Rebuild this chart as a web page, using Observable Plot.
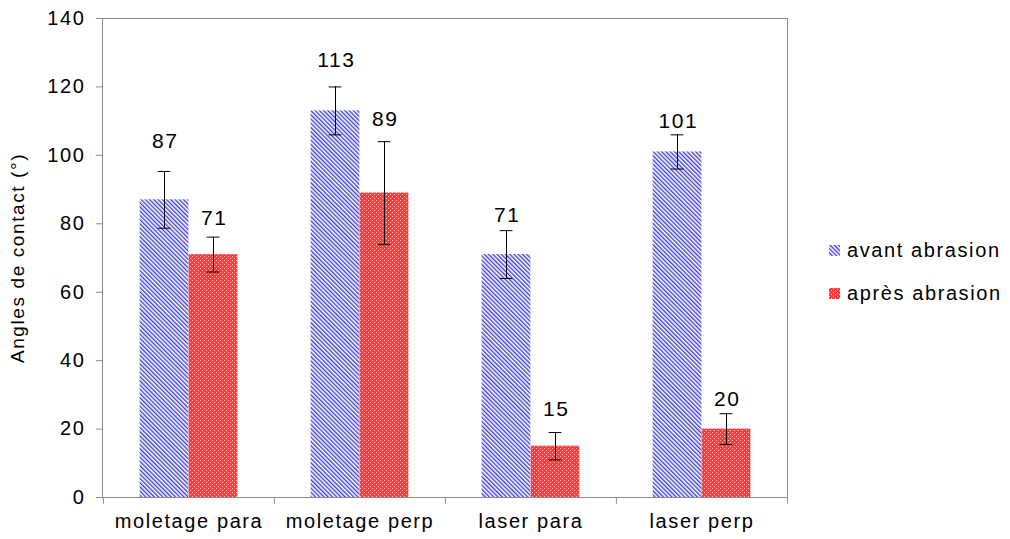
<!DOCTYPE html>
<html>
<head>
<meta charset="utf-8">
<script src="https://cdn.jsdelivr.net/npm/d3@7"></script>
<script src="https://cdn.jsdelivr.net/npm/@observablehq/plot@0.6"></script>
<style>
  body { margin: 0; background: #fff; font-family: "Liberation Sans", Arial, sans-serif; }
  #wrap { position: relative; width: 1010px; height: 539px; }
  #legend { position: absolute; left: 829px; top: 0; font-size: 20px; letter-spacing: 1.6px; color: #000; }
  .item { position: absolute; display: flex; align-items: center; white-space: nowrap; }
  .item svg { margin-right: 7px; }
</style>
</head>
<body>
<div id="wrap">
  <div id="chart"></div>
  <div id="legend"></div>
</div>
<script>
const categories = ["moletage para", "moletage perp", "laser para", "laser perp"];
const seriesNames = ["avant abrasion", "après abrasion"];
const avantValues = [87, 113, 71, 101];
const apresValues = [71, 89, 15, 20];
const avantErrors = [8.3, 7, 7, 5];
const apresErrors = [5.1, 15, 4, 4.5];
const avantLabelY = [104, 127.7, 82.4, 109.9];
const apresLabelY = [81.6, 110.5, 25.7, 28.6];
const yTicks = [0, 20, 40, 60, 80, 100, 120, 140];

const W = 1010, H = 539, mL = 102, mR = 223, mT = 18, mB = 42;
const bw = (W - mL - mR) / categories.length;
const barW = 49, off = 24.5, capW = 13;

const avant = categories.map((c, i) => ({cat: c, value: avantValues[i], err: avantErrors[i], labelY: avantLabelY[i]}));
const apres = categories.map((c, i) => ({cat: c, value: apresValues[i], err: apresErrors[i], labelY: apresLabelY[i]}));

const fills = {"avant abrasion": "url(#hatchBlue)", "après abrasion": "url(#checkRed)"};

function seriesMarks(data, sign, fill) {
  const c = bw / 2 + sign * off; // bar centre offset inside the band
  return [
    Plot.barY(data, {x: "cat", y: "value", fill, insetLeft: c - barW / 2, insetRight: bw - c - barW / 2}),
    Plot.ruleX(data, {x: "cat", y1: d => d.value - d.err, y2: d => d.value + d.err, dx: sign * off, stroke: "#000", strokeWidth: 1}),
    Plot.tickY(data, {x: "cat", y: d => d.value - d.err, insetLeft: c - capW / 2, insetRight: bw - c - capW / 2, stroke: "#000", strokeWidth: 1}),
    Plot.tickY(data, {x: "cat", y: d => d.value + d.err, insetLeft: c - capW / 2, insetRight: bw - c - capW / 2, stroke: "#000", strokeWidth: 1}),
    Plot.text(data, {x: "cat", y: "labelY", text: d => String(d.value), dx: sign * off + 0.8, fontSize: 21, fill: "#000"})
  ];
}

const plot = Plot.plot({
  width: W, height: H,
  marginLeft: mL, marginRight: mR, marginTop: mT, marginBottom: mB,
  style: {fontFamily: "'Liberation Sans', Arial, sans-serif", background: "transparent", color: "#000", letterSpacing: "1.6px"},
  x: {domain: categories, padding: 0},
  y: {domain: [0, 140]},
  marks: [
    ...seriesMarks(avant, -1, fills["avant abrasion"]),
    ...seriesMarks(apres, 1, fills["après abrasion"]),
    Plot.frame({stroke: "#8c8c8c"}),
    Plot.axisY({ticks: yTicks, tickSize: 6, tickPadding: 11, fontSize: 20, stroke: "#8c8c8c",
      label: "Angles de contact (°)", labelArrow: "none", labelAnchor: "center", labelOffset: 92}),
    Plot.axisX({tickSize: 0, tickPadding: 16, fontSize: 20, label: null}),
    Plot.ruleX(categories, {x: d => d, dx: -bw / 2, y1: 0, y2: -2, stroke: "#8c8c8c"}),
    Plot.ruleX(categories.slice(-1), {x: d => d, dx: bw / 2, y1: 0, y2: -2, stroke: "#8c8c8c"})
  ]
});

function addPatterns(defs, suffix) {
  const pb = defs.append("pattern").attr("id", "hatchBlue" + suffix).attr("width", 3).attr("height", 3)
    .attr("patternUnits", "userSpaceOnUse").attr("patternTransform", "rotate(-45)");
  pb.append("rect").attr("x", -1).attr("y", -1).attr("width", 5).attr("height", 5).attr("fill", "#fff");
  pb.append("line").attr("x1", 0.7).attr("y1", -1).attr("x2", 0.7).attr("y2", 4)
    .attr("stroke", "#3030d8").attr("stroke-width", 1.3);
  const pr = defs.append("pattern").attr("id", "checkRed" + suffix).attr("width", 4).attr("height", 4)
    .attr("patternUnits", "userSpaceOnUse");
  pr.append("rect").attr("width", 4).attr("height", 4).attr("fill", "#ff3c3c").attr("shape-rendering", "crispEdges");
  pr.append("rect").attr("x", 0).attr("y", 0).attr("width", 1).attr("height", 1).attr("fill", "#ffc0c0").attr("shape-rendering", "crispEdges");
  pr.append("rect").attr("x", 2).attr("y", 2).attr("width", 1).attr("height", 1).attr("fill", "#ffc0c0").attr("shape-rendering", "crispEdges");
}
const svg = d3.select(plot);
addPatterns(svg.insert("defs", ":first-child"), "");
// y-axis title font
svg.selectAll("[aria-label='y-axis label'] text").attr("font-size", 19);
document.getElementById("chart").appendChild(plot);

// legend
const legend = d3.select("#legend");
const tops = [250, 293];
seriesNames.forEach((s, i) => {
  const item = legend.append("div").attr("class", "item").style("top", (tops[i] - 12) + "px").style("height", "24px");
  const sw = item.append("svg").attr("width", 11).attr("height", 11);
  addPatterns(sw.append("defs"), "L" + i);
  sw.append("rect").attr("width", 11).attr("height", 11).attr("fill", fills[s].replace(")", "L" + i + ")"));
  item.append("span").text(s);
});
</script>
</body>
</html>
